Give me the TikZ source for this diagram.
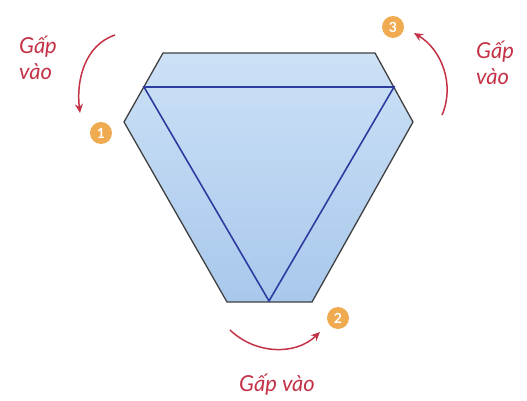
\documentclass[tikz,border=0pt]{standalone}
\usepackage{fontspec}
\setmainfont{Lato}
\usetikzlibrary{arrows.meta}
\definecolor{foldred}{RGB}{195,50,70}
\definecolor{numorange}{RGB}{240,170,80}
\definecolor{paperlight}{RGB}{205,225,246}
\definecolor{paperdark}{RGB}{168,200,236}
\definecolor{creaseblue}{RGB}{45,60,160}
\tikzset{num/.style={circle,fill=numorange,text=white,font=\bfseries\fontsize{14}{14}\selectfont,minimum size=22pt,inner sep=0pt},
lbl/.style={text=foldred,font=\itshape\fontsize{22}{26}\selectfont,align=left},
fold/.style={-{Stealth[length=9pt,width=8pt]},foldred,line width=1.5pt}}
\begin{document}
\begin{tikzpicture}[x=1pt,y=-1pt]
\useasboundingbox (0,0) rectangle (527,401);
\shade[top color=paperlight,bottom color=paperdark,draw=black!75,line width=1.3pt] (163,53)--(375,53)--(413,122)--(312,302)--(227,302)--(124,122)--cycle;
\draw[creaseblue,line width=1.6pt] (144,87)--(394,87)--(269,301)--cycle;
\node[num] (n1) at (101,133) {1};
\node[num] (n2) at (338,318) {2};
\node[num] (n3) at (393,27) {3};
\node[lbl] (l1) at (38,58) {Gấp\\vào};
\node[lbl] (l3) at (495,63) {Gấp\\vào};
\node[lbl] (l2) at (277,385) {Gấp vào};
\coordinate (a1s) at (115,35); \coordinate (a1e) at (80,113);
\coordinate (a2s) at (230,330); \coordinate (a2e) at (320,332);
\coordinate (a3s) at (442,115); \coordinate (a3e) at (414,33);
\draw[fold] (a1s) .. controls (85,45) and (76,80) .. (a1e);
\draw[fold] (a2s) .. controls (255,354) and (295,356) .. (a2e);
\draw[fold] (a3s) .. controls (455,85) and (442,50) .. (a3e);
\end{tikzpicture}
\end{document}
